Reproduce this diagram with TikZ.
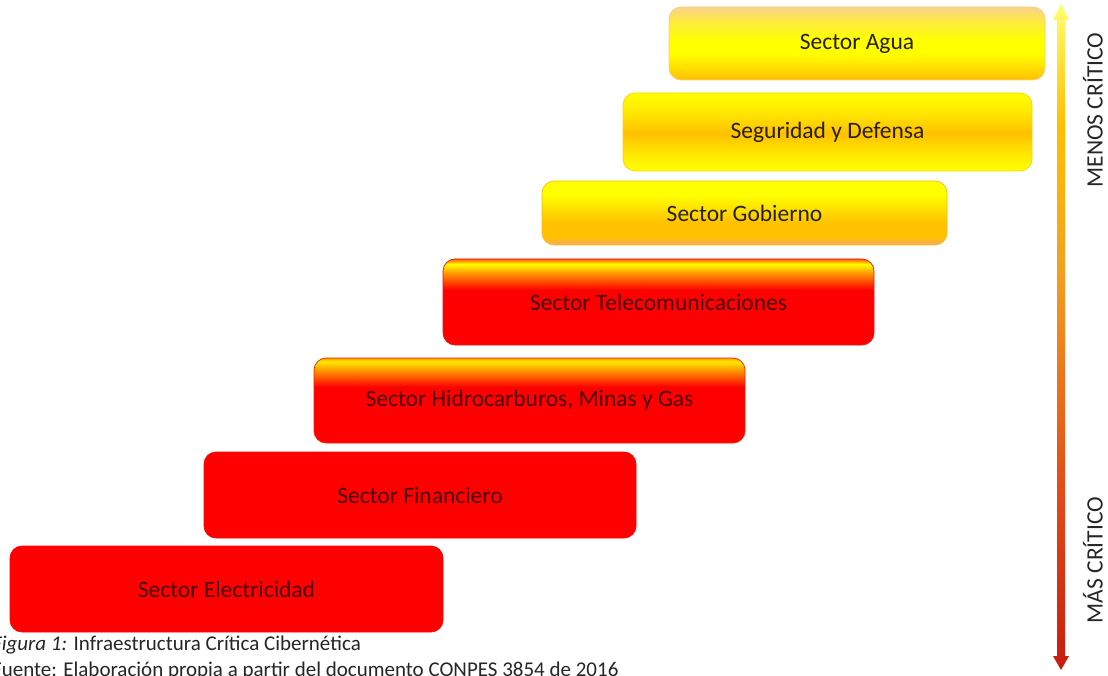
\documentclass[tikz,border=0pt]{standalone}
\usepackage{fontspec}
\setmainfont{Carlito}
\definecolor{gold}{HTML}{FFC000}
\definecolor{ylw}{HTML}{FFFF00}
\definecolor{peach}{HTML}{FAD38C}
\definecolor{peachb}{HTML}{F6A86A}
\definecolor{rd}{HTML}{FF0000}
\definecolor{orng}{HTML}{FF9A00}
\definecolor{txtdark}{HTML}{262000}
\definecolor{txtred}{HTML}{4A0000}
\definecolor{arrtop}{HTML}{FFFF70}
\definecolor{arrmid}{HTML}{F2A020}
\definecolor{arrlow}{HTML}{E65018}
\definecolor{arrbot}{HTML}{C81C10}
\pgfdeclareverticalshading{aguash}{100bp}{color(0bp)=(gold); color(25bp)=(gold); color(43bp)=(ylw); color(52bp)=(ylw); color(64bp)=(ylw!60!peach); color(75bp)=(peach); color(100bp)=(peach)}
\pgfdeclareverticalshading{segsh}{100bp}{color(0bp)=(ylw); color(25bp)=(ylw); color(37bp)=(ylw!60!gold); color(49bp)=(gold); color(62bp)=(ylw!60!gold); color(75bp)=(ylw); color(100bp)=(ylw)}
\pgfdeclareverticalshading{gobsh}{100bp}{color(0bp)=(peachb); color(25bp)=(peachb); color(31bp)=(gold); color(42bp)=(gold); color(64bp)=(ylw); color(75bp)=(ylw); color(100bp)=(ylw)}
\pgfdeclareverticalshading{telsh}{100bp}{color(0bp)=(rd); color(25bp)=(rd); color(57bp)=(rd); color(67bp)=(orng); color(72bp)=(ylw); color(75bp)=(orng!60!rd); color(100bp)=(orng!60!rd)}
\pgfdeclareverticalshading{hidsh}{100bp}{color(0bp)=(rd); color(25bp)=(rd); color(58bp)=(rd); color(68bp)=(orng); color(73bp)=(ylw!80!orng); color(75bp)=(orng); color(100bp)=(orng)}
\pgfdeclareverticalshading{arrsh}{100bp}{color(0bp)=(arrbot); color(25bp)=(arrbot); color(40bp)=(arrlow); color(55bp)=(arrmid); color(66bp)=(gold); color(75bp)=(arrtop); color(100bp)=(arrtop)}
\tikzset{
  sectorbox/.style={rounded corners=12pt, inner sep=0pt, minimum width=#1, font=\fontsize{23.5}{27}\selectfont, line width=0.7pt},
  yelbox/.style={text=txtdark},
  redbox/.style={text=txtred},
  sidelabel/.style={rotate=90, font=\fontsize{23.5}{27}\selectfont, text=black!85, inner sep=0pt},
  captxt/.style={anchor=base west, inner sep=0pt, text=black!85}
}
\begin{document}
\begin{tikzpicture}[x=1pt,y=-1pt]
\useasboundingbox (0,0) rectangle (1108,676);
\fill[white] (0,0) rectangle (1108,676);
% boxes
\node[sectorbox=376pt, minimum height=73pt, yelbox, shading=aguash, draw=peach!90!orng] (agua) at (857,43.5) {Sector Agua};
\node[sectorbox=409pt, minimum height=78pt, yelbox, shading=segsh, draw=gold!70!ylw] (seg) at (827.5,132) {Seguridad y Defensa};
\node[sectorbox=405pt, minimum height=64pt, yelbox, shading=gobsh, draw=gold!80!peachb] (gob) at (744.5,213) {Sector Gobierno};
\node[sectorbox=431pt, minimum height=86pt, redbox, shading=telsh, draw=rd!85!black!90] (tel) at (658.5,302) {Sector Telecomunicaciones};
\node[sectorbox=431pt, minimum height=85pt, redbox, shading=hidsh, draw=rd!80!orng] (hid) at (529.5,400.5) {Sector Hidrocarburos, Minas y Gas};
\node[sectorbox=432pt, minimum height=86pt, redbox, fill=rd, draw=rd] (fin) at (420,495) {Sector Financiero};
\node[sectorbox=433pt, minimum height=86pt, redbox, fill=rd, draw=rd] (ele) at (226.5,589) {Sector Electricidad};
% double arrow
\shade[shading=arrsh] (1061,4) -- (1069,20) -- (1065,20) -- (1065,656) -- (1069,656) -- (1061,670) -- (1053,656) -- (1057,656) -- (1057,20) -- (1053,20) -- cycle;
\node[sidelabel] (menos) at (1093,110) {MENOS CRÍTICO};
\node[sidelabel] (mas) at (1093,560) {MÁS CRÍTICO};
% caption
\node[captxt, font=\fontsize{21}{24}\selectfont] (cap1) at (-8,650) {\textit{Figura 1:} Infraestructura Crítica Cibernética};
\node[captxt, font=\fontsize{21}{24}\selectfont] (cap2) at (-8,676) {Fuente: Elaboración propia a partir del documento CONPES 3854 de 2016};
\end{tikzpicture}
\end{document}
